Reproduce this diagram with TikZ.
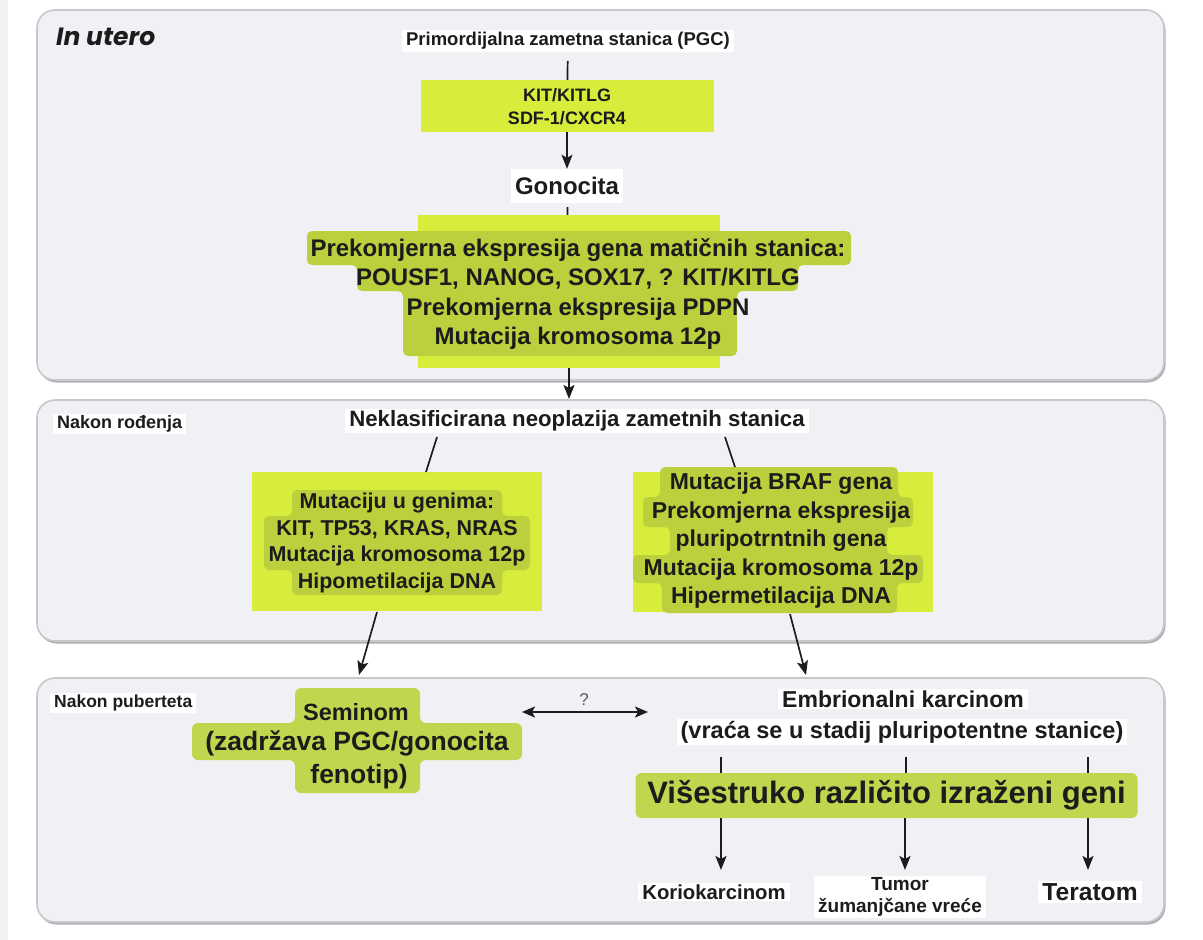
\documentclass[tikz,border=0pt]{standalone}
\usepackage{fontspec}
\setmainfont{Liberation Sans}
\newfontfamily\popfont{Poppins}
\usetikzlibrary{arrows.meta}
\definecolor{ylw}{RGB}{216,236,59}
\definecolor{olv}{RGB}{188,208,62}
\definecolor{grn}{RGB}{193,214,78}
\definecolor{pfill}{RGB}{241,241,245}
\definecolor{pline}{RGB}{200,200,204}
\definecolor{pshadow}{RGB}{175,175,180}
\definecolor{ink}{RGB}{28,28,28}
\newcommand{\fz}[2]{\fontsize{#1}{#2}\selectfont}
\begin{document}
\begin{tikzpicture}[x=1pt,y=-1pt,
  panel/.style={draw=pline, fill=pfill, line width=1.6pt, rounded corners=18pt},
  pshad/.style={fill=pshadow, rounded corners=18pt},
  wlab/.style={fill=white, inner xsep=4pt, inner ysep=2pt, text=ink, font=\bfseries},
  txt/.style={inner sep=0pt, text=ink, align=center},
  hilite/.style={fill=olv, rounded corners=5pt},
  arr/.style={-{Stealth[length=14pt,width=11pt,inset=3pt]}, line width=1.7pt, draw=ink},
  darr/.style={{Stealth[length=13pt,width=11pt,inset=3pt]}-{Stealth[length=13pt,width=11pt,inset=3pt]}, line width=1.9pt, draw=ink},
  ln/.style={line width=1.7pt, draw=ink}]
\useasboundingbox (0,0) rectangle (1203,940);
\fill[white] (0,0) rectangle (1203,940);
\fill[black!5] (0,0) rectangle (8,940);

% ---------- panels ----------
\fill[pshad] (38.5,12) rectangle (1165.5,382.5);
\draw[panel] (37,10) rectangle (1164,380);
\fill[pshad] (38.5,402) rectangle (1165.5,643.5);
\draw[panel] (37,400) rectangle (1164,641);
\fill[pshad] (38.5,680) rectangle (1165.5,924.5);
\draw[panel] (37,678) rectangle (1164,922);

% ---------- In utero ----------
\node[txt, anchor=west, font=\popfont\bfseries\itshape\fz{25}{30}] (inutero) at (56,37) {In utero};
\node[wlab, font=\bfseries\fz{18.5}{22}] (pgc) at (568,41) {Primordijalna zametna stanica (PGC)};
\node[fill=ylw, minimum width=293pt, minimum height=52pt, inner sep=0pt] (kit) at (567,106) {};
\node[txt, font=\bfseries\fz{18}{23}] (kittxt) at (567,107) {KIT/KITLG\\SDF-1/CXCR4};
\node[wlab, font=\bfseries\fz{24}{28}, minimum height=34pt] (gono) at (567,186) {Gonocita};
\node[fill=ylw, minimum width=302pt, minimum height=153pt, inner sep=0pt] (big) at (569,291.5) {};
\path[hilite] (307,231) -- (851,231) -- (851,265) -- (798,265) -- (798,291) -- (737,291)
  -- (737,356) -- (403,356) -- (403,291) -- (357,291) -- (357,265) -- (307,265) -- cycle;
\node[txt, font=\bfseries\fz{24}{29.3}] (bigtxt) at (578,294) {Prekomjerna ekspresija gena matičnih stanica:\\POUSF1, NANOG, SOX17, ? KIT/KITLG\\Prekomjerna ekspresija PDPN\\Mutacija kromosoma 12p};
\coordinate (midtop) at (569,399);

\draw[ln, shorten <=9pt] (pgc) -- (kit);
\draw[arr] (kit) -- (gono);
\draw[ln, shorten <=4pt] (gono) -- (big);
\draw[arr] (big) -- (midtop);

% ---------- Nakon rodenja ----------
\node[wlab, anchor=west, font=\bfseries\fz{18}{21}] (nr) at (53,424) {Nakon rođenja};
\node[wlab, font=\bfseries\fz{22.2}{26}] (neo) at (577,421) {Neklasificirana neoplazija zametnih stanica};

\node[fill=ylw, minimum width=290pt, minimum height=139pt, inner sep=0pt] (lbox) at (397,541.5) {};
\path[hilite] (292,490) -- (502,490) -- (502,516) -- (530,516) -- (530,570) -- (502,570)
  -- (502,595) -- (292,595) -- (292,570) -- (264,570) -- (264,516) -- (292,516) -- cycle;
\node[txt, font=\bfseries\fz{21.5}{26.4}] (ltxt) at (397,543) {Mutaciju u genima:\\KIT, TP53, KRAS, NRAS\\Mutacija kromosoma 12p\\Hipometilacija DNA};

\node[fill=ylw, minimum width=300pt, minimum height=140pt, inner sep=0pt] (rbox) at (783,542) {};
\path[hilite] (660,467) -- (898,467) -- (898,497) -- (913,497) -- (913,527) -- (887,527)
  -- (887,555) -- (923,555) -- (923,583) -- (897,583) -- (897,613) -- (662,613)
  -- (662,583) -- (633,583) -- (633,555) -- (670,555) -- (670,527) -- (643,527)
  -- (643,497) -- (660,497) -- cycle;
\node[txt, font=\bfseries\fz{23}{28.5}] (rtxt) at (781,541) {Mutacija BRAF gena\\Prekomjerna ekspresija\\pluripotrntnih gena\\Mutacija kromosoma 12p\\Hipermetilacija DNA};

\coordinate (nl) at (437,437);
\coordinate (lt) at (426,472);
\coordinate (nrr) at (725,437);
\coordinate (rt) at (735,467);
\draw[ln] (nl) -- (lt);
\draw[ln] (nrr) -- (rt);

% arrows from middle boxes into bottom panel
\coordinate (la) at (377,612);
\coordinate (lb) at (359,675);
\coordinate (ra) at (790,614);
\coordinate (rb) at (806,675);
\draw[arr] (la) -- (lb);
\draw[arr] (ra) -- (rb);

% ---------- Nakon puberteta ----------
\node[wlab, anchor=west, font=\bfseries\fz{17.5}{21}] (np) at (50,703) {Nakon puberteta};

\fill[grn, rounded corners=6pt] (295,688) -- (420,688) -- (420,723) -- (522,723) -- (522,760)
  -- (420,760) -- (420,793) -- (295,793) -- (295,760) -- (192,760) -- (192,723) -- (295,723) -- cycle;
\node[txt, font=\bfseries\fz{23.5}{28}] (sem1) at (356,712) {Seminom};
\node[txt, font=\bfseries\fz{26.5}{31}] (sem2) at (357,743) {(zadržava PGC/gonocita};
\node[txt, font=\bfseries\fz{26.5}{31}] (sem3) at (359,777) {fenotip)};

\node[wlab, font=\bfseries\fz{23}{27}] (emb) at (903,699) {Embrionalni karcinom};
\node[wlab, font=\bfseries\fz{23.5}{27}] (vrac) at (902,732) {(vraća se u stadij pluripotentne stanice)};

\coordinate (qa) at (522,712);
\coordinate (qb) at (648,712);
\draw[darr] (qa) -- (qb);
\node[txt, font=\fz{17}{20}, text=black!65] (q) at (584,700) {?};

\node[fill=grn, rounded corners=6pt, minimum width=502pt, minimum height=45pt, inner sep=0pt,
  font=\bfseries\fz{31}{36}, text=ink] (vis) at (886.5,795.5) {Višestruko različito izraženi geni};

\coordinate (t1) at (721,757);
\coordinate (t2) at (906,757);
\coordinate (t3) at (1088,757);
\draw[ln] (t1) -- (vis.north -| t1);
\draw[ln] (t2) -- (vis.north -| t2);
\draw[ln] (t3) -- (vis.north -| t3);

\node[wlab, font=\bfseries\fz{20.3}{24}] (korio) at (714,892) {Koriokarcinom};
\node[wlab, align=center, font=\bfseries\fz{19}{22.5}, inner ysep=1pt] (tumor) at (900,897) {Tumor\\žumanjčane vreće};
\node[wlab, font=\bfseries\fz{24.6}{29}] (terat) at (1090,892) {Teratom};

\coordinate (e1) at (721,870);
\coordinate (e2) at (905,870);
\coordinate (e3) at (1088,870);
\draw[arr] (vis.south -| e1) -- (e1);
\draw[arr] (vis.south -| e2) -- (e2);
\draw[arr] (vis.south -| e3) -- (e3);
\end{tikzpicture}
\end{document}
